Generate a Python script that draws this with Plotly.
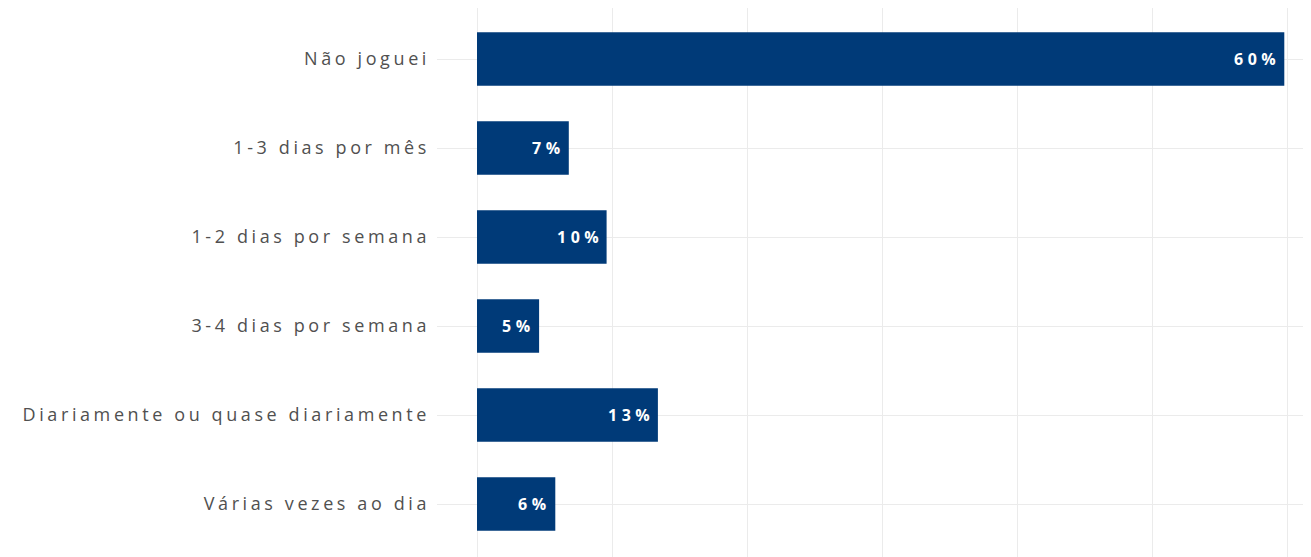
import plotly.graph_objects as go

categories = ["Não joguei", "1-3 dias por mês", "1-2 dias por semana", "3-4 dias por semana",
              "Diariamente ou quase diariamente", "Várias vezes ao dia"]
values = [59.8, 6.8, 9.6, 4.6, 13.4, 5.8]
labels = ["60%", "7%", "10%", "5%", "13%", "6%"]

tick_text = ['<span style="letter-spacing:3.6px">%s</span>' % c for c in categories]

fig = go.Figure(go.Bar(
    x=values, y=categories, orientation="h",
    marker=dict(color="#003a78", line=dict(width=0)),
    width=0.6,
    hoverinfo="skip",
))

for v, c, t in zip(values, categories, labels):
    fig.add_annotation(x=v, y=c, text='<span style="letter-spacing:4.5px">%s</span>' % t,
                       showarrow=False, xanchor="right", xshift=-2,
                       font=dict(family="Open Sans", size=16, color="white", weight="bold"))

fig.update_layout(
    width=1311, height=557,
    margin=dict(l=429, r=0, t=0, b=0),
    plot_bgcolor="white", paper_bgcolor="white",
    showlegend=False,
    xaxis=dict(range=[-2.963, 62.37], dtick=10, tick0=0, showticklabels=False,
               showgrid=True, gridcolor="#ebebeb", gridwidth=1.2, zeroline=False, showline=False),
    yaxis=dict(categoryorder="array", categoryarray=categories, autorange=False,
               tickmode="array", tickvals=categories, ticktext=tick_text,
               range=[5.685, -0.573], showgrid=True, gridcolor="#ebebeb", gridwidth=1.2,
               ticklabelstandoff=6,
               tickfont=dict(family="Open Sans", size=18, color="#505050"),
               zeroline=False, showline=False),
)

fig.write_html("out.html")
